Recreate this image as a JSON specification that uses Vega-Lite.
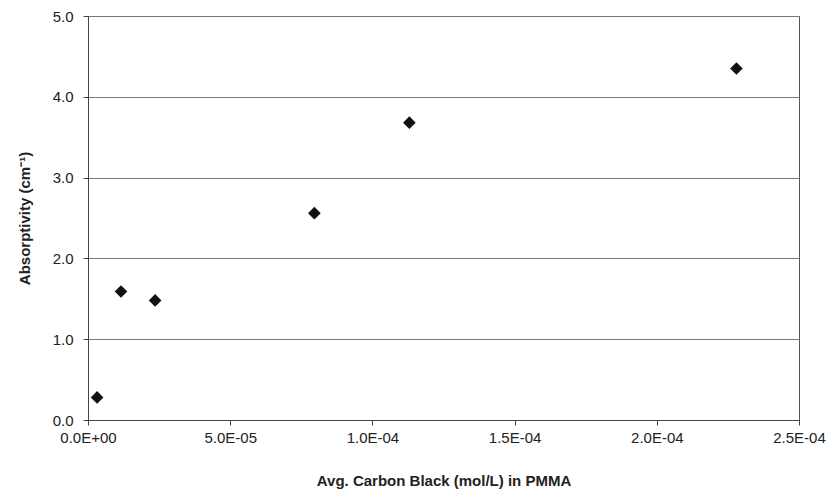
{
  "$schema": "https://vega.github.io/schema/vega-lite/v6.json",
  "autosize": "none",
  "padding": {"left": 88, "top": 16, "right": 37, "bottom": 82},
  "width": 711,
  "height": 404,
  "background": "white",
  "config": {
    "view": {"stroke": "#555555", "strokeWidth": 1},
    "font": "Liberation Sans"
  },
  "data": {
    "values": [
      {"conc": 3.2e-6, "absorptivity": 0.28},
      {"conc": 1.16e-5, "absorptivity": 1.59},
      {"conc": 2.36e-5, "absorptivity": 1.48},
      {"conc": 7.96e-5, "absorptivity": 2.56},
      {"conc": 1.13e-4, "absorptivity": 3.68},
      {"conc": 2.28e-4, "absorptivity": 4.35}
    ]
  },
  "mark": {"type": "point", "shape": "diamond", "filled": true, "color": "#111111", "size": 160, "opacity": 1},
  "encoding": {
    "x": {
      "field": "conc",
      "type": "quantitative",
      "scale": {"domain": [0, 0.00025], "nice": false, "zero": true},
      "axis": {
        "title": "Avg. Carbon Black (mol/L) in PMMA",
        "titleFont": "Liberation Sans",
        "titleFontSize": 15,
        "titleFontWeight": "bold",
        "titleColor": "#222222",
        "titlePadding": 28,
        "values": [0, 0.00005, 0.0001, 0.00015, 0.0002, 0.00025],
        "labelExpr": "replace(replace(format(datum.value,'.1e'),'e-','E-0'),'e+','E+0')",
        "labelFontSize": 15,
        "labelColor": "#222222",
        "labelPadding": 5,
        "labelFlush": false,
        "grid": false,
        "domainColor": "#444444",
        "tickColor": "#444444",
        "tickSize": 5
      }
    },
    "y": {
      "field": "absorptivity",
      "type": "quantitative",
      "scale": {"domain": [0, 5], "nice": false},
      "axis": {
        "title": "Absorptivity (cm⁻¹)",
        "titleFont": "Liberation Sans",
        "titleFontSize": 15,
        "titleFontWeight": "bold",
        "titleColor": "#222222",
        "titlePadding": 20,
        "values": [0, 1, 2, 3, 4, 5],
        "format": ".1f",
        "labelFontSize": 15,
        "labelColor": "#222222",
        "labelPadding": 10,
        "grid": true,
        "gridColor": "#777777",
        "gridWidth": 1,
        "domainColor": "#444444",
        "tickColor": "#444444",
        "tickSize": 5
      }
    }
  }
}
